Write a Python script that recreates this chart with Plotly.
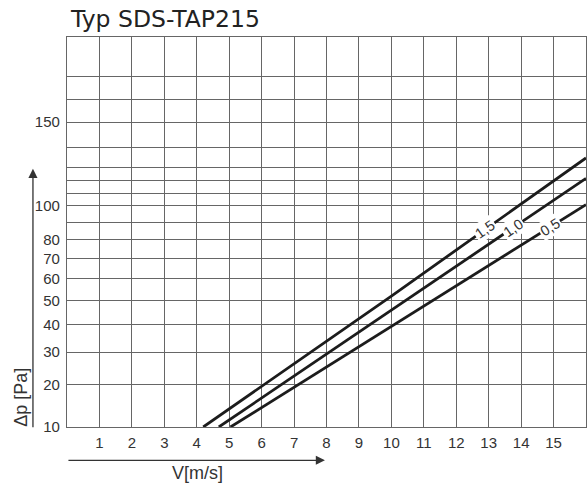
import numpy as np
import plotly.graph_objects as go

# ---------------- data ----------------
V_15 = [4.2, 10, 16]
DP_15 = [10, 52, 135]
V_10 = [4.68, 10, 16]
DP_10 = [10, 46, 122]
V_05 = [5.04, 10, 16]
DP_05 = [10, 39.5, 101]

SERIES_NAMES = ["1,5", "1,0", "0,5"]
LABEL_V = [12.9, 13.75, 14.9]

X_TICKS = list(range(1, 16))
X_GRID = list(range(1, 17))

Y_GRID = [10, 20, 30, 40, 50, 60, 70, 80, 90, 100, 110, 120, 130, 140, 150, 175, 200]
Y_LABELED = [10, 20, 30, 40, 50, 60, 70, 80, 100, 150]
Y_TOP = 250

# chart's own (irregular) pressure scale: square-root up to 100 Pa, then
# the chart's grid spacing above 100 Pa
UPPER_SCALE_VALUES = [100, 110, 120, 130, 140, 150, 175, 200, 250]
UPPER_SCALE_U = [10.0, 10.38, 10.77, 11.17, 11.79, 12.59, 13.30, 14.00, 15.22]


def yscale(v):
    v = np.asarray(v, dtype=float)
    return np.where(v <= 100, np.sqrt(v), np.interp(v, UPPER_SCALE_VALUES, UPPER_SCALE_U))


LINE_COLOR = "#1c1c1c"
GRID_COLOR = "#666666"
TEXT_COLOR = "#333333"
TICK_FONT = dict(family="Liberation Sans, Arial, sans-serif", size=15, color=TEXT_COLOR)
TITLE_FONT = dict(family="Liberation Sans, Arial, sans-serif", size=18, color=TEXT_COLOR)

fig = go.Figure()

series = [(V_15, DP_15), (V_10, DP_10), (V_05, DP_05)]
for name, (vx, dp) in zip(SERIES_NAMES, series):
    fig.add_trace(go.Scatter(x=vx, y=yscale(dp), mode="lines", name=name,
                             line=dict(color=LINE_COLOR, width=2.8), hoverinfo="skip"))

angles = [-35, -34, -32]
for name, (vx, dp), lv, ang in zip(SERIES_NAMES, series, LABEL_V, angles):
    u = np.interp(lv, vx, yscale(dp))
    fig.add_annotation(x=lv, y=float(u), xref="x", yref="y", text=name, showarrow=False,
                       textangle=ang, bgcolor="white", borderpad=1,
                       font=dict(family="Liberation Sans, Arial, sans-serif", size=14.5, color=TEXT_COLOR))

fig.update_xaxes(range=[0, 16], tickmode="array", tickvals=X_GRID,
                 ticktext=[str(t) if t in X_TICKS else "" for t in X_GRID],
                 showgrid=True, gridcolor=GRID_COLOR, gridwidth=1.2, automargin=False,
                 showline=True, mirror=True, linecolor=GRID_COLOR, linewidth=1.3,
                 zeroline=False, ticks="outside", ticklen=2, tickcolor="rgba(0,0,0,0)",
                 tickfont=TICK_FONT, fixedrange=True)
fig.update_yaxes(range=[float(yscale(10)), float(yscale(Y_TOP))], tickmode="array",
                 tickvals=[float(u) for u in yscale(Y_GRID)],
                 ticktext=[str(v) if v in Y_LABELED else "" for v in Y_GRID],
                 showgrid=True, gridcolor=GRID_COLOR, gridwidth=1.2, automargin=False,
                 showline=True, mirror=True, linecolor=GRID_COLOR, linewidth=1.3,
                 zeroline=False, ticks="outside", ticklen=3, tickcolor="rgba(0,0,0,0)",
                 tickfont=TICK_FONT, fixedrange=True)

# title
fig.add_annotation(x=0.002, y=1.0, xref="paper", yref="paper", xanchor="left", yanchor="bottom",
                   yshift=2, text="Typ SDS-TAP215", showarrow=False,
                   font=dict(family="DejaVu Sans", size=23.5, color="#222222"))
# axis titles
fig.add_annotation(x=-0.088, y=0.076, xref="paper", yref="paper", xanchor="center", yanchor="middle",
                   text="Δp [Pa]", textangle=-90, showarrow=False, font=TITLE_FONT)
fig.add_annotation(x=0.252, y=-0.118, xref="paper", yref="paper", xanchor="center", yanchor="middle",
                   text="V[m/s]", showarrow=False, font=TITLE_FONT)
# axis arrows
fig.add_annotation(x=-0.0656, y=0.662, xref="paper", yref="paper", ax=0, ay=260, text="",
                   showarrow=True, arrowhead=2, arrowsize=1.4, arrowwidth=1.3, arrowcolor="#333333")
fig.add_annotation(x=0.497, y=-0.0854, xref="paper", yref="paper", ax=-258, ay=0, text="",
                   showarrow=True, arrowhead=2, arrowsize=1.4, arrowwidth=1.3, arrowcolor="#333333")

fig.update_layout(template="none", width=587, height=488, margin=dict(l=67, r=1, t=37, b=61),
                  plot_bgcolor="white", paper_bgcolor="white", showlegend=False)

fig.write_html("out.html", config={"displayModeBar": False},
               post_script="document.body.style.margin='0';document.body.style.overflow='hidden';")
